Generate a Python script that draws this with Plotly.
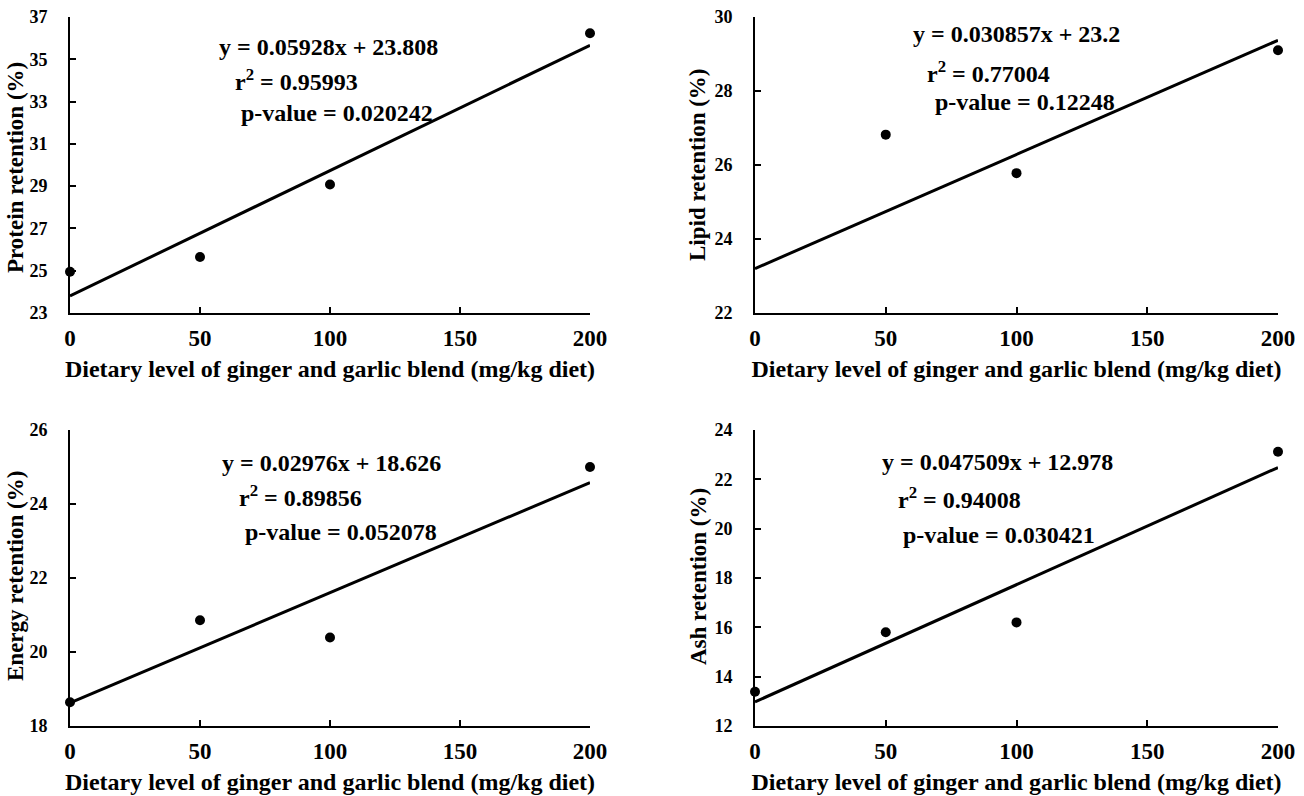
import plotly.graph_objects as go

W, H = 1304, 796

x_levels = [0, 50, 100, 200]
protein = [24.95, 25.65, 29.08, 36.23]
lipid = [21.95, 26.82, 25.78, 29.10]
energy = [18.64, 20.86, 20.39, 25.00]
ash = [13.39, 15.80, 16.20, 23.12]

slope_txt = ["0.05928", "0.030857", "0.02976", "0.047509"]
intercept_txt = ["23.808", "23.2", "18.626", "12.978"]
r2_txt = ["0.95993", "0.77004", "0.89856", "0.94008"]
p_txt = ["0.020242", "0.12248", "0.052078", "0.030421"]

y_titles = ["Protein retention (%)", "Lipid retention (%)",
            "Energy retention (%)", "Ash retention (%)"]
y_ranges = [[23, 37], [22, 30], [18, 26], [12, 24]]
y_tickvals = [[23, 25, 27, 29, 31, 33, 35, 37], [22, 24, 26, 28, 30],
              [18, 20, 22, 24, 26], [12, 14, 16, 18, 20, 22, 24]]
x_tickvals = [0, 50, 100, 150, 200]
x_title = "Dietary level of ginger and garlic blend (mg/kg diet)"

series = [protein, lipid, energy, ash]

# panel boxes in pixels: (left, right, top, bottom)
boxes = [(70, 590, 17, 313), (755, 1278, 17, 313),
         (70, 590, 430, 726), (755, 1278, 430, 726)]
# y-title centres in pixels
ytitle_pos = [(15, 168), (698, 165), (15, 576), (698, 577)]
# annotation line positions (left x, center y) in pixels
ann_pos = [
    [(217, 47), (233, 80), (239, 113)],
    [(911, 34), (925, 72), (933, 102)],
    [(220, 463), (237, 496), (243, 532)],
    [(880, 462), (896, 498), (901, 535)],
]

FONT = "Liberation Serif"
fig = go.Figure()
annotations = []

for i in range(4):
    ax = "" if i == 0 else str(i + 1)
    xref, yref = "x" + ax, "y" + ax
    a = float(slope_txt[i]); b = float(intercept_txt[i])
    xs = [x_levels[0], x_levels[-1]]
    fig.add_trace(go.Scatter(x=xs, y=[a * v + b for v in xs], mode="lines",
                             line=dict(color="black", width=3),
                             xaxis=xref, yaxis=yref, showlegend=False,
                             cliponaxis=False))
    fig.add_trace(go.Scatter(x=x_levels, y=series[i], mode="markers",
                             marker=dict(color="black", size=10),
                             xaxis=xref, yaxis=yref, showlegend=False,
                             cliponaxis=False))
    l, r, t, btm = boxes[i]
    common = dict(showline=True, linecolor="black", linewidth=2,
                  ticks="inside", ticklen=6, tickwidth=2, tickcolor="black",
                  showgrid=False, zeroline=False, mirror=False,
                  automargin=False)
    fig.layout["xaxis" + ax] = dict(
        domain=[l / W, r / W], range=[0, 200], tickvals=x_tickvals,
        anchor="y" + ax,
        tickfont=dict(family=FONT, size=23, color="black", weight="bold"),
        ticklabelstandoff=3,
        title=dict(text="<b>" + x_title + "</b>", standoff=11,
                   font=dict(family=FONT, size=24, color="black")),
        **common)
    fig.layout["yaxis" + ax] = dict(
        domain=[1 - btm / H, 1 - t / H], range=y_ranges[i],
        tickvals=y_tickvals[i], anchor="x" + ax,
        tickfont=dict(family=FONT, size=18, color="black", weight="bold"),
        ticklabelstandoff=17,
        **common)
    tx_, ty_ = ytitle_pos[i]
    annotations.append(dict(
        text="<b>" + y_titles[i] + "</b>", x=tx_ / W, y=1 - ty_ / H,
        xref="paper", yref="paper", xanchor="center", yanchor="middle",
        textangle=-90, showarrow=False,
        font=dict(family=FONT, size=23, color="black")))
    texts = ["y = " + slope_txt[i] + "x + " + intercept_txt[i],
             "r<sup>2</sup> = " + r2_txt[i],
             "p-value = " + p_txt[i]]
    for (px, py), tx in zip(ann_pos[i], texts):
        annotations.append(dict(
            text="<b>" + tx + "</b>", x=px / W, y=1 - py / H,
            xref="paper", yref="paper", xanchor="left", yanchor="middle",
            showarrow=False, font=dict(family=FONT, size=24, color="black")))

fig.update_layout(width=W, height=H, margin=dict(l=0, r=0, t=0, b=0),
                  paper_bgcolor="white", plot_bgcolor="white",
                  annotations=annotations)
fig.write_html("out.html", config={"displayModeBar": False},
               post_script="document.body.style.margin='0px';")
